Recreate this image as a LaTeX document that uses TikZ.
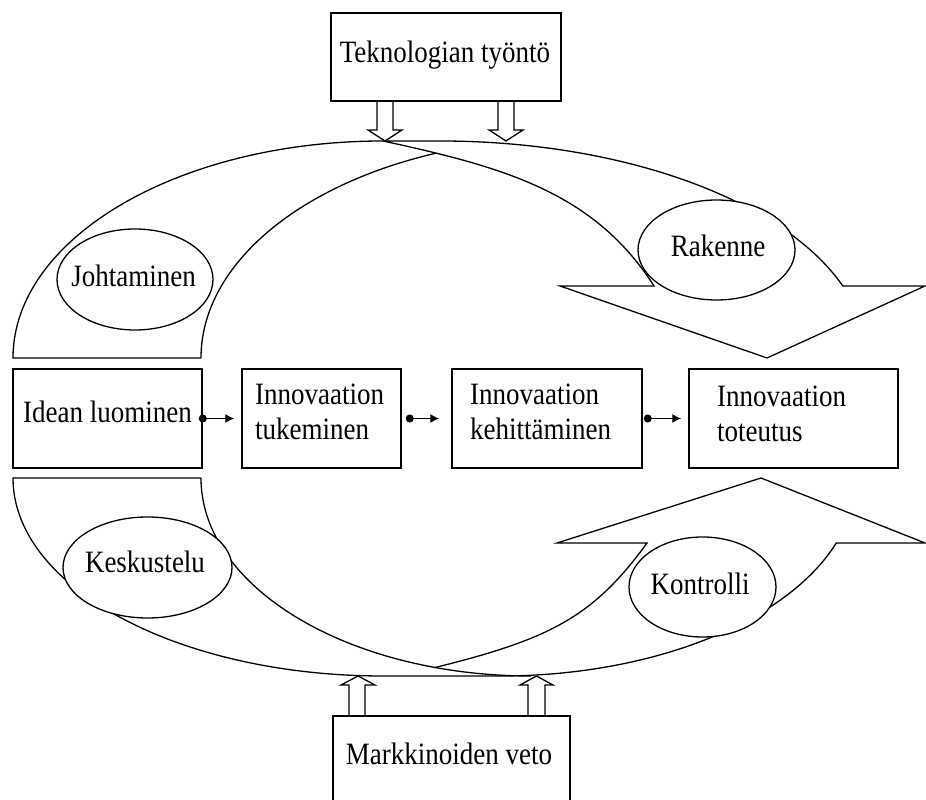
\documentclass[tikz,border=0pt]{standalone}
\usepackage{fontspec}
\usepackage{graphicx}
\setmainfont{Liberation Serif}
\usetikzlibrary{arrows.meta}
\newcommand\talltxt[1]{\scalebox{1}[1.15]{#1}}
\begin{document}
\begin{tikzpicture}[x=1pt,y=1pt,
  ln/.style={line width=1.3pt, line join=miter},
  boxst/.style={draw, line width=1.5pt, inner sep=0pt, minimum height=99pt, minimum width=#1},
  lab/.style={font=\fontsize{27}{32}\selectfont, inner sep=0pt, anchor=base west},
  clab/.style={font=\fontsize{27}{32}\selectfont, inner sep=0pt, anchor=base},
  conn/.style={line width=1.3pt, {Circle[length=8pt]}-{Latex[length=9pt,width=9pt]}},
  oval/.style={draw, fill=white, line width=1.3pt}
]
\useasboundingbox (0,0) rectangle (926,800);
\clip (0,0) rectangle (926,800);

% top box
\node[draw, line width=1.5pt, minimum width=230pt, minimum height=88pt, inner sep=0pt] (tek) at (446,743) {};
\node[clab] (tekt) at (445,737) {\talltxt{Teknologian työntö}};

% top hollow arrows
\draw[ln] (377,699) -- (377,670) -- (368,670) -- (385,659) -- (402,670) -- (393,670) -- (393,699);
\draw[ln] (498,699) -- (498,670) -- (489,670) -- (506,659) -- (523,670) -- (514,670) -- (514,699);

% top curved arrow
\draw[ln] (201,442) -- (13,442)
  arc[start angle=180,end angle=90,x radius=370,y radius=217] -- (440,659)
  arc[start angle=90,end angle=19.37,x radius=427,y radius=217]
  -- (925,514) -- (767,442) -- (560,514) -- (654,514)
  .. controls (594,608) and (503,633) .. (383,659);
\draw[ln] (201,442) arc[start angle=180,end angle=111.4,x radius=370,y radius=220];

% bottom curved arrow
\draw[ln] (201,322) -- (13,322)
  arc[start angle=180,end angle=270,x radius=370,y radius=198] -- (500,124)
  arc[start angle=270,end angle=340.85,x radius=356,y radius=198]
  -- (925,257) -- (761,322) -- (557,257) -- (647,257)
  .. controls (594,184) and (551,161) .. (435,132.5);
\draw[ln] (201,322) arc[start angle=180,end angle=270,x radius=330,y radius=198];

% bottom hollow arrows
\draw[ln] (349,83) -- (349,115) -- (341,115) -- (358,124) -- (375,115) -- (365,115) -- (365,83);
\draw[ln] (528,83) -- (528,115) -- (520,115) -- (536.5,124) -- (553,115) -- (545,115) -- (545,83);

% bottom box
\node[draw, line width=1.5pt, minimum width=237pt, minimum height=120pt, inner sep=0pt] (mark) at (451.5,24) {};
\node[clab] (markt) at (449,35) {\talltxt{Markkinoiden veto}};

% middle boxes
\node[boxst=189pt] (b1) at (107.5,381.5) {};
\node[boxst=159pt] (b2) at (321.5,381.5) {};
\node[boxst=190pt] (b3) at (547,381.5) {};
\node[boxst=209pt] (b4) at (793.5,381.5) {};

\node[lab] (t1) at (23,377) {\talltxt{Idean luominen}};
\node[lab] (t2a) at (255,395) {\talltxt{Innovaation}};
\node[lab] (t2b) at (255,360) {\talltxt{tukeminen}};
\node[lab] (t3a) at (470,395) {\talltxt{Innovaation}};
\node[lab] (t3b) at (470,360) {\talltxt{kehittäminen}};
\node[lab] (t4a) at (717,393) {\talltxt{Innovaation}};
\node[lab] (t4b) at (717,358) {\talltxt{toteutus}};

\draw[conn, shorten <=-4pt, shorten >=7pt] (b1.east) -- (b2.west);
\draw[conn, shorten <=4pt, shorten >=12pt] (b2.east) -- (b3.west);
\draw[conn, shorten <=1pt, shorten >=7pt] (b3.east) -- (b4.west);

% ellipses
\draw[oval] (135,520.5) ellipse[x radius=78, y radius=50.5];
\node[clab] (joh) at (133.5,513) {\talltxt{Johtaminen}};
\draw[oval] (716.5,550) ellipse[x radius=78.5, y radius=50];
\node[clab] (rak) at (718,543) {\talltxt{Rakenne}};
\draw[oval] (147.5,232.5) ellipse[x radius=84.5, y radius=50.5];
\node[clab] (kes) at (145,227) {\talltxt{Keskustelu}};
\draw[oval] (702.5,213) ellipse[x radius=73.5, y radius=50];
\node[clab] (kon) at (700,205) {\talltxt{Kontrolli}};
\end{tikzpicture}
\end{document}
